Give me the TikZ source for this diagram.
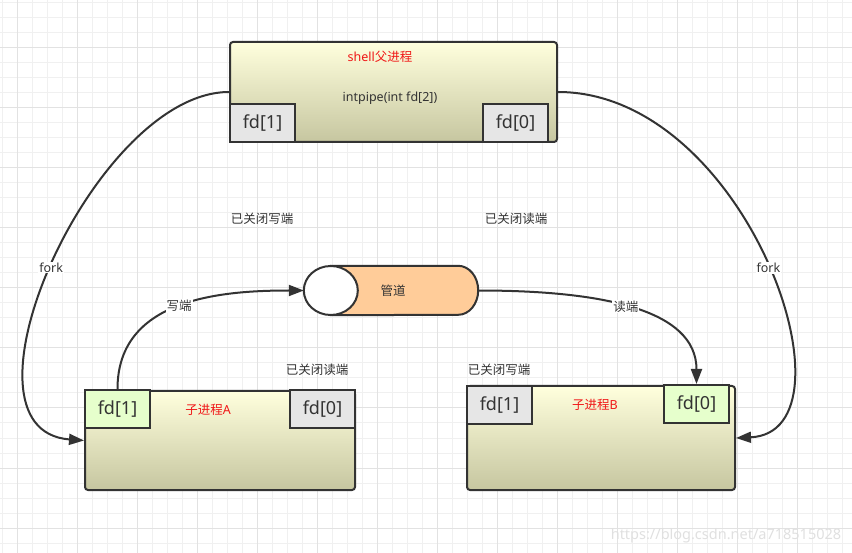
\documentclass[tikz,border=0pt]{standalone}
\usepackage{fontspec}
\setmainfont{Noto Sans}
\newfontfamily\cjk{Noto Sans CJK SC}
\usetikzlibrary{arrows.meta,calc}

\definecolor{ink}{HTML}{333333}
\definecolor{boxtop}{HTML}{FFFFDD}
\definecolor{boxbot}{HTML}{C6C6A0}
\definecolor{greyfd}{HTML}{E6E6E6}
\definecolor{greenfd}{HTML}{E6FFCC}
\definecolor{pipefill}{HTML}{FFCC99}
\definecolor{gridminor}{HTML}{F0F0F0}
\definecolor{gridmajor}{HTML}{E2E2E2}
\definecolor{procred}{HTML}{F01818}

\tikzset{
  procbox/.style={draw=ink, line width=2pt, rounded corners=3pt,
    top color=boxtop, bottom color=boxbot, inner sep=0pt},
  fdoff/.style={draw=ink, line width=2pt, fill=greyfd, minimum width=65pt,
    minimum height=38pt, inner sep=0pt, text=ink, font=\fontsize{18}{20}\selectfont},
  fdon/.style={fdoff, fill=greenfd},
  small/.style={text=ink, font=\fontsize{12.5}{14}\selectfont},
  title/.style={text=procred, font=\fontsize{12.5}{14}\selectfont},
  link/.style={draw=ink, line width=2pt, -{Triangle[length=15pt, width=11pt]}},
  elabel/.style={small, fill=white, inner sep=1pt}
}

\begin{document}
\begin{tikzpicture}[x=1pt, y=-1pt]
  \useasboundingbox (0,0) rectangle (852,553);
  \fill[white] (0,0) rectangle (852,553);

  % grid
  \foreach \x in {2,17,...,852} \draw[gridminor, line width=1pt] (\x,0) -- (\x,553);
  \foreach \y in {3,18,...,553} \draw[gridminor, line width=1pt] (0,\y) -- (852,\y);
  \foreach \x in {17,77,...,852} \draw[gridmajor, line width=1pt] (\x,0) -- (\x,553);
  \foreach \y in {48,108,...,553} \draw[gridmajor, line width=1pt] (0,\y) -- (852,\y);

  % parent
  \node[procbox, minimum width=327pt, minimum height=100pt] (parent) at (393.5,92) {};
  \node[title] (ptitle) at (380,57) {shell{\cjk 父进程}};
  \node[small] (pcall) at (390,98) {intpipe(int fd[2])};
  \node[fdoff, anchor=south west] (pfd1) at (parent.south west) {fd[1]};
  \node[fdoff, anchor=south east] (pfd0) at ($(parent.south east)+(-9,0)$) {fd[0]};

  % pipe
  \node[minimum width=174pt, minimum height=49pt, inner sep=0pt] (pipe) at (391,290.5) {};
  \draw[ink, line width=2pt, fill=pipefill]
    ($(pipe.north west)+(27,0)$) -- ($(pipe.north east)+(-20,0)$)
    arc[start angle=-90, end angle=90, x radius=20, y radius=24.5]
    -- ($(pipe.south west)+(27,0)$) -- cycle;
  \draw[ink, line width=2pt, fill=white] ($(pipe.west)+(27,0)$) ellipse[x radius=27, y radius=24.5];
  \node[small] (pname) at (393,291) {\cjk 管道};

  % children
  \node[procbox, minimum width=270pt, minimum height=99pt] (childA) at (220,440.5) {};
  \node[fdon, anchor=north west] (afd1) at ($(childA.north west)+(0,-1)$) {fd[1]};
  \node[fdoff, anchor=north east] (afd0) at ($(childA.north east)+(0,-1)$) {fd[0]};
  \node[title] (atitle) at (208,410) {{\cjk 子进程}A};

  \node[procbox, minimum width=268pt, minimum height=104pt] (childB) at (601,438) {};
  \node[fdoff, anchor=north west] (bfd1) at (childB.north west) {fd[1]};
  \node[fdon, anchor=north east] (bfd0) at ($(childB.north east)+(-6,-1)$) {fd[0]};
  \node[title] (btitle) at (595,405) {{\cjk 子进程}B};

  % state notes
  \node[small] (wclosed1) at (262,219) {\cjk 已关闭写端};
  \node[small] (rclosed1) at (516,219) {\cjk 已关闭读端};
  \node[small] (rclosed2) at (317,370) {\cjk 已关闭读端};
  \node[small] (wclosed2) at (499,370) {\cjk 已关闭写端};

  % connectors
  \draw[link] (parent.west) .. controls +(-135,0) and +(-140,-10.5) .. (childA.west)
    node[elabel, pos=0.51] {fork};
  \draw[link] (parent.east) .. controls +(190,0) and +(128,-6) .. (childB.east)
    node[elabel, pos=0.51] {fork};
  \draw[link] (afd1.north) .. controls +(0,-90) and +(-84,0) .. (pipe.west)
    node[elabel, pos=0.5] {\cjk 写端};
  \draw[link] (pipe.east) .. controls +(122,0) and +(0,-75) .. (bfd0.north)
    node[elabel, pos=0.47] {\cjk 读端};

  \node[text=black!12, font=\fontsize{14.5}{16}\selectfont] (mark) at (726,536)
    {https://blog.csdn.net/a718515028};
\end{tikzpicture}
\end{document}
